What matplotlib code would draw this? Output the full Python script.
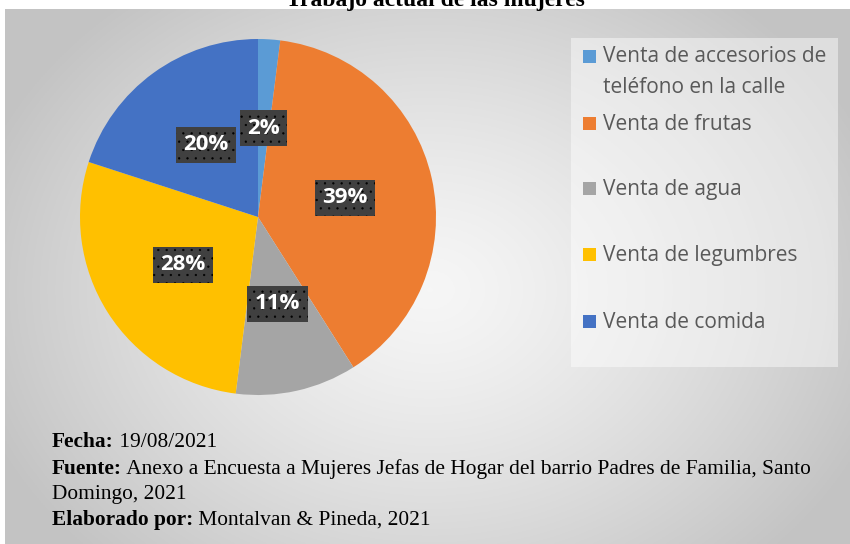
import numpy as np
import matplotlib
matplotlib.use("Agg")
import matplotlib.pyplot as plt
from matplotlib.patches import Rectangle

# data
categorias = ["Venta de accesorios de\nteléfono en la calle", "Venta de frutas",
              "Venta de agua", "Venta de legumbres", "Venta de comida"]
porcentajes = [2, 39, 11, 28, 20]
colores = ["#5B9BD5", "#ED7D31", "#A5A5A5", "#FFC000", "#4472C4"]
titulo = "Trabajo actual de las mujeres"
pie_lineas = [("Fecha:", " 19/08/2021"),
              ("Fuente:", " Anexo a Encuesta a Mujeres Jefas de Hogar del barrio Padres de Familia, Santo"),
              ("", "Domingo, 2021"),
              ("Elaborado por:", " Montalvan & Pineda, 2021")]

W, H = 850, 544
plt.rcParams["hatch.color"] = "#6a6a6a"
plt.rcParams["hatch.linewidth"] = 0.4

fig = plt.figure(figsize=(W / 100, H / 100), dpi=100, facecolor="white")

def fx(px):
    return px / W

def fy(py):
    return 1 - py / H

# gray radial background
bg = fig.add_axes([fx(5), 0, fx(845), 1 - 9 / H], zorder=0)
gx, gy = np.meshgrid(np.linspace(5, 850, 400), np.linspace(9, 544, 300))
r = np.sqrt(((gx - 430) / 480) ** 2 + ((gy - 290) / 380) ** 2)
g = 0.965 - 0.20 * np.clip(r, 0, 1) ** 1.3
bg.imshow(np.dstack([g, g, g]), aspect="auto", extent=[0, 1, 0, 1], origin="upper")
bg.set_axis_off()

# title (cut at top in the source)
fig.text(fx(435), fy(6), titulo, ha="center", va="baseline", fontsize=17,
         fontweight="bold", family="Liberation Serif", color="black", zorder=5)

# pie
cx, cy, rad = 258, 217, 178
ax = fig.add_axes([fx(cx - rad), fy(cy + rad), fx(2 * rad), 2 * rad / H], zorder=2)
wedges, _, autotexts = ax.pie(porcentajes, colors=colores, startangle=90, counterclock=False,
                              autopct="%1.0f%%", pctdistance=0.5, radius=1,
                              wedgeprops=dict(linewidth=0))
for t in autotexts:
    t.set_color("white")
    t.set_fontsize(16)
    t.set_fontweight("bold")
    t.set_family("Open Sans")
    t.set_bbox(dict(boxstyle="square,pad=0.34", facecolor="#404040", hatch="..", linewidth=0))
ax.set_xlim(-1, 1)
ax.set_ylim(-1, 1)
ax.set_aspect("equal")
ax.set_axis_off()

# legend box
fig.patches.append(Rectangle((fx(571), fy(367)), fx(838 - 571), (367 - 38) / H,
                             transform=fig.transFigure, facecolor="white", alpha=0.45,
                             linewidth=0, zorder=1))
leg_y = [57, 124, 189, 255, 322]
for lab, col, y in zip(categorias, colores, leg_y):
    fig.patches.append(Rectangle((fx(583), fy(y + 6)), fx(13), 13 / H,
                                 transform=fig.transFigure, facecolor=col,
                                 linewidth=0, zorder=3))
    yc = y + 15 * lab.count("\n")
    fig.text(fx(603), fy(yc), lab, ha="left", va="center", fontsize=15,
             family="Open Sans", color="#595959", linespacing=1.6, zorder=3)

# footer
renderer = fig.canvas.get_renderer()
foot_y = [447, 474, 499, 525]
for (b, n), y in zip(pie_lineas, foot_y):
    x0 = fx(52)
    if b:
        tb = fig.text(x0, fy(y), b, ha="left", va="baseline", fontsize=15.4,
                      fontweight="bold", family="Liberation Serif", zorder=3)
        x0 = fig.transFigure.inverted().transform(tb.get_window_extent(renderer))[1][0]
    fig.text(x0, fy(y), n, ha="left", va="baseline", fontsize=15.4,
             family="Liberation Serif", zorder=3)

fig.savefig("out.png", dpi=100, facecolor="white")
